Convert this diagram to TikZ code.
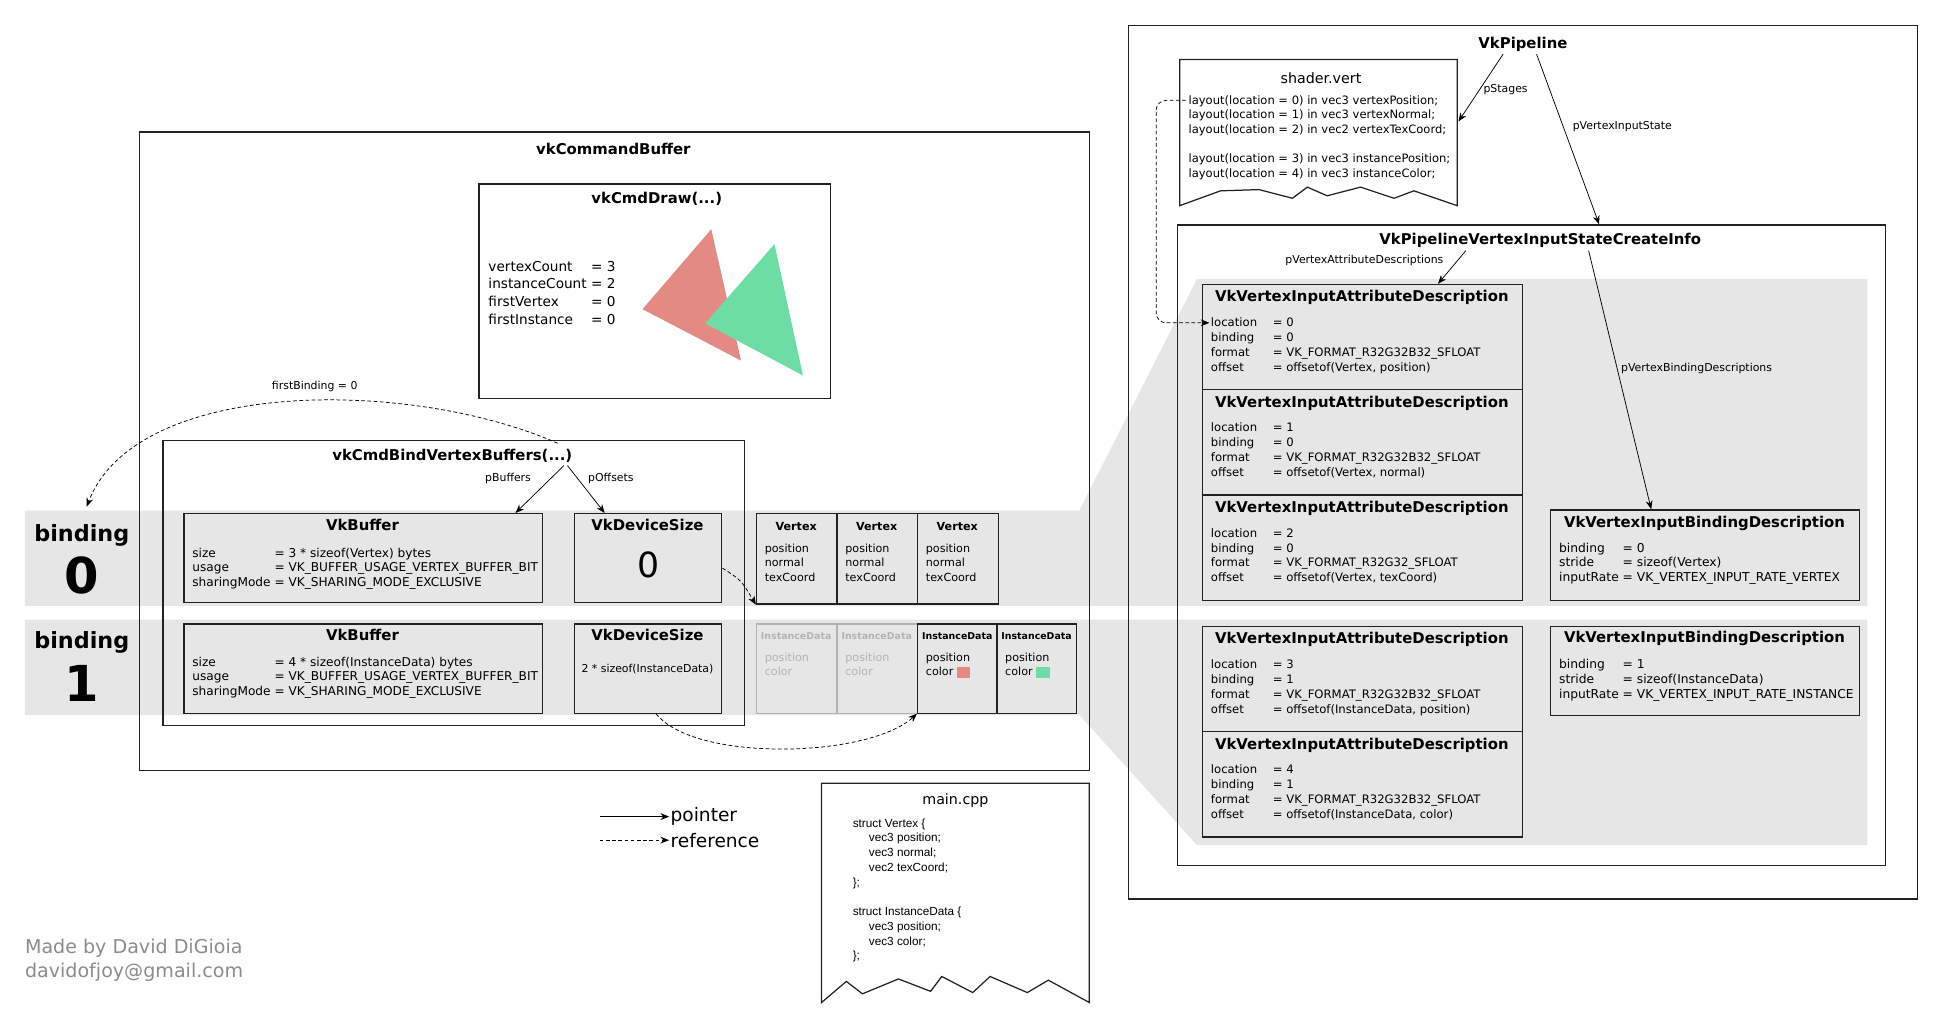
\documentclass[tikz,border=0pt]{standalone}
\usepackage{fontspec}
\setmainfont{DejaVu Sans}
\newfontfamily\codefont{Liberation Sans}
\usetikzlibrary{arrows.meta}

\definecolor{bandgray}{HTML}{E6E6E6}
\definecolor{linegray}{HTML}{222222}
\definecolor{fadegray}{HTML}{B3B3B3}
\definecolor{trired}{HTML}{E48A84}
\definecolor{trigreen}{HTML}{6EDCA5}
\definecolor{signgray}{HTML}{8C8C8C}

\tikzset{
  box/.style={draw=linegray, line width=1pt, anchor=north west, inner sep=0pt},
  fadebox/.style={box, draw=fadegray},
  boxtitle/.style={font=\fontsize{12}{14}\selectfont\bfseries, anchor=base, inner sep=2pt},
  kv/.style={font=\fontsize{9}{12}\selectfont, anchor=base west, inner sep=0pt},
  lbl/.style={font=\fontsize{8.8}{10}\selectfont, inner sep=1pt},
  ptrarrow/.style={-{Stealth[length=7pt,width=5.5pt]}, line width=0.6pt},
  refarrow/.style={ptrarrow, dash pattern=on 3pt off 2pt},
  swatch/.style={minimum width=11pt, minimum height=9pt, inner sep=0pt},
}

\begin{document}
\begin{tikzpicture}[x=1pt, y=-1pt]
\useasboundingbox (0,0) rectangle (1568,832);

% gray bands, one per binding
\fill[bandgray] (20,412) -- (871,412) -- (966,225) -- (1507,225) -- (1507,489) -- (20,489) -- cycle;
\fill[bandgray] (20,500) -- (1507,500) -- (1507,682) -- (966,682) -- (871,577) -- (20,577) -- cycle;

% binding labels
\node[font=\fontsize{18}{20}\selectfont\bfseries, anchor=base] (bind0) at (66,437) {binding};
\node[font=\fontsize{40}{40}\selectfont\bfseries, anchor=base] (bind0n) at (66,479) {0};
\node[font=\fontsize{18}{20}\selectfont\bfseries, anchor=base] (bind1) at (66,523.5) {binding};
\node[font=\fontsize{40}{40}\selectfont\bfseries, anchor=base] (bind1n) at (66,566) {1};

% command buffer
\node[box, minimum width=767pt, minimum height=515pt] (cmdbuf) at (112,106) {};
\node[boxtitle] (cmdbuft) at (495,124.5) {vkCommandBuffer};

% draw call
\node[box, minimum width=284pt, minimum height=173pt] (draw) at (386,148) {};
\node[boxtitle] (drawt) at (530,164.5) {vkCmdDraw(...)};
\node[kv, font=\fontsize{11}{14.2}\selectfont] (drawtxt) at (394,219) {\begin{tabular}[t]{@{}l@{ }l@{}}vertexCount & = 3\\ instanceCount & = 2\\ firstVertex & = 0\\ firstInstance & = 0\end{tabular}};
\fill[trired] (574,185) -- (598,291) -- (518.5,249.5) -- cycle;
\fill[trigreen] (625,197) -- (648,303) -- (569,261) -- cycle;

% bind vertex buffers call
\node[box, minimum width=469pt, minimum height=230pt] (bindvb) at (131,355) {};
\node[boxtitle] (bindvbt) at (365,372) {vkCmdBindVertexBuffers(...)};

% binding 0
\node[box, minimum width=289pt, minimum height=72pt] (buf0) at (148,414) {};
\node[boxtitle] (buf0t) at (292.5,428.5) {VkBuffer};
\node[kv, font=\fontsize{9.8}{11.8}\selectfont] (buf0txt) at (155,449.5) {\begin{tabular}[t]{@{}l@{ }l@{}}size & = 3 * sizeof(Vertex) bytes\\ usage & = VK\_BUFFER\_USAGE\_VERTEX\_BUFFER\_BIT\\ sharingMode & = VK\_SHARING\_MODE\_EXCLUSIVE\end{tabular}};
\node[box, minimum width=119pt, minimum height=72pt] (ds0) at (463,414) {};
\node[boxtitle] (ds0t) at (522.5,428.5) {VkDeviceSize};
\node[font=\fontsize{28}{28}\selectfont, anchor=base] (ds0val) at (523,466) {0};

% binding 1
\node[box, minimum width=289pt, minimum height=72pt] (buf1) at (148,503) {};
\node[boxtitle] (buf1t) at (292.5,516.5) {VkBuffer};
\node[kv, font=\fontsize{9.8}{11.8}\selectfont] (buf1txt) at (155,537.5) {\begin{tabular}[t]{@{}l@{ }l@{}}size & = 4 * sizeof(InstanceData) bytes\\ usage & = VK\_BUFFER\_USAGE\_VERTEX\_BUFFER\_BIT\\ sharingMode & = VK\_SHARING\_MODE\_EXCLUSIVE\end{tabular}};
\node[box, minimum width=119pt, minimum height=72pt] (ds1) at (463,503) {};
\node[boxtitle] (ds1t) at (522.5,516.5) {VkDeviceSize};
\node[lbl, anchor=base] (ds1val) at (522.5,543) {2 * sizeof(InstanceData)};

% pointers out of the bind call
\draw[ptrarrow] ([xshift=90pt]bindvbt.south) -- ([xshift=-22pt]buf0.north east);
\draw[ptrarrow] ([xshift=93pt]bindvbt.south) -- ([xshift=-35pt]ds0.north);
\node[lbl] (pbuflbl) at (410,386) {pBuffers};
\node[lbl] (pofflbl) at (493,386) {pOffsets};

% firstBinding reference
\draw[refarrow] ([xshift=85pt,yshift=3pt]bindvbt.north) .. controls (330,305) and (110,305) .. ([xshift=4pt,yshift=11pt]bind0.north);
\node[lbl] (fblbl) at (254,312) {firstBinding = 0};

% vertex data
\foreach \i/\x in {0/610, 1/675, 2/740} {
  \node[box, minimum width=65pt, minimum height=73pt] (vtx\i) at (\x,414) {};
  \node[boxtitle, font=\fontsize{9}{11}\selectfont\bfseries] (vtxt\i) at ({\x+32.5},428.5) {Vertex};
  \node[kv] (vtxtxt\i) at ({\x+7},445.5) {\begin{tabular}[t]{@{}l@{}}position\\ normal\\ texCoord\end{tabular}};
}

% instance data
\foreach \i/\x in {0/610, 1/675} {
  \node[fadebox, minimum width=65pt, minimum height=72pt] (inst\i) at (\x,503) {};
  \node[boxtitle, font=\fontsize{7.6}{9}\selectfont\bfseries, text=fadegray] (instt\i) at ({\x+32.5},516) {InstanceData};
  \node[kv, text=fadegray] (insttxt\i) at ({\x+7},533.5) {\begin{tabular}[t]{@{}l@{}}position\\ color\end{tabular}};
}
\foreach \i/\x in {2/740, 3/804} {
  \node[box, minimum width=64.5pt, minimum height=72pt] (inst\i) at (\x,503) {};
  \node[boxtitle, font=\fontsize{7.6}{9}\selectfont\bfseries] (instt\i) at ({\x+32.5},516) {InstanceData};
  \node[kv] (insttxt\i) at ({\x+7},533.5) {\begin{tabular}[t]{@{}l@{}}position\\ color\end{tabular}};
}
\node[swatch, fill=trired] (sw2) at (777.5,542.5) {};
\node[swatch, fill=trigreen] (sw3) at (841.5,542.5) {};

% offsets point into the data
\draw[refarrow] ([yshift=-8pt]ds0.east) .. controls (598,468) .. (vtx0.south west);
\draw[refarrow] ([xshift=6.5pt]ds1.south) .. controls (560,615) and (700,612) .. (inst2.south west);

% legend
\node[font=\fontsize{15}{17}\selectfont, anchor=west, inner sep=1pt] (ptrlbl) at (540,659) {pointer};
\node[font=\fontsize{15}{17}\selectfont, anchor=west, inner sep=1pt] (reflbl) at (540,678) {reference};
\coordinate (ptrA) at (484,659);
\coordinate (refA) at (484,678);
\draw[ptrarrow] (ptrA) -- (ptrlbl.west);
\draw[refarrow] (refA) -- (reflbl.west);

% main.cpp
\draw[linegray, line width=1pt] (663,809) -- (663,632) -- (879,632) -- (879,809) -- (846,791) -- (829,801) -- (799,788) -- (785,801) -- (760,788) -- (751,800) -- (725,790) -- (696,802) -- (683,792) -- cycle;
\node[font=\fontsize{11.5}{13}\selectfont, anchor=base] (cppt) at (771,649.5) {main.cpp};
\node[kv, font=\codefont\fontsize{9.5}{11.9}\selectfont] (cpptxt) at (688,667.5) {\begin{tabular}[t]{@{}l@{}}struct Vertex \{\\ \hspace*{13pt}vec3 position;\\ \hspace*{13pt}vec3 normal;\\ \hspace*{13pt}vec2 texCoord;\\ \};\\ \\ struct InstanceData \{\\ \hspace*{13pt}vec3 position;\\ \hspace*{13pt}vec3 color;\\ \};\end{tabular}};

% credit
\node[font=\fontsize{15.4}{17}\selectfont, text=signgray, anchor=base west, inner sep=0pt] (credit) at (20,769.5) {Made by David DiGioia};
\node[font=\fontsize{15.4}{17}\selectfont, text=signgray, anchor=base west, inner sep=0pt] (mail) at (20,788.5) {davidofjoy@gmail.com};

% pipeline
\node[box, minimum width=637pt, minimum height=705pt] (pipe) at (910,20) {};
\node[boxtitle] (pipet) at (1229,39) {VkPipeline};

% shader.vert
\draw[linegray, line width=1pt] (952,166) -- (952,48) -- (1176,48) -- (1176,166) -- (1141,154) -- (1125,160) -- (1098,151) -- (1071,158) -- (1055,151) -- (1043,160) -- (1016,153) -- (985,154) -- cycle;
\coordinate (shaderR) at (1177,98);
\node[font=\fontsize{11.5}{13}\selectfont, anchor=base] (shadert) at (1066,67) {shader.vert};
\node[kv, font=\fontsize{9.3}{11.8}\selectfont] (shadertxt) at (959,84) {\begin{tabular}[t]{@{}l@{}}layout(location = 0) in vec3 vertexPosition;\\ layout(location = 1) in vec3 vertexNormal;\\ layout(location = 2) in vec2 vertexTexCoord;\\ \\ layout(location = 3) in vec3 instancePosition;\\ layout(location = 4) in vec3 instanceColor;\end{tabular}};

% vertex input state
\node[box, minimum width=571pt, minimum height=517pt] (info) at (950,181) {};
\node[boxtitle] (infot) at (1243,197.5) {VkPipelineVertexInputStateCreateInfo};

% attribute descriptions
\foreach \i/\y/\loc/\bnd/\fmt/\off in {
  0/229/0/0/R32G32B32/{Vertex, position},
  1/314/1/0/R32G32B32/{Vertex, normal},
  2/399/2/0/R32G32/{Vertex, texCoord},
  3/505/3/1/R32G32B32/{InstanceData, position},
  4/590/4/1/R32G32B32/{InstanceData, color}} {
  \node[box, minimum width=258pt, minimum height=85pt] (attr\i) at (970,\y) {};
  \node[boxtitle] (attrt\i) at (1099,{\y+14.5}) {VkVertexInputAttributeDescription};
  \node[kv, font=\fontsize{9.4}{12}\selectfont] (attrtxt\i) at (977,{\y+34.5}) {\begin{tabular}[t]{@{}p{50pt}@{}l@{}}location & = \loc\\ binding & = \bnd\\ format & = VK\_FORMAT\_\fmt\_SFLOAT\\ offset & = offsetof(\off)\end{tabular}};
}

% binding descriptions
\node[box, minimum width=249pt, minimum height=73pt] (bd0) at (1251,411) {};
\node[boxtitle] (bdt0) at (1375.5,425.5) {VkVertexInputBindingDescription};
\node[kv, font=\fontsize{9.9}{12}\selectfont] (bdtxt0) at (1258,445.5) {\begin{tabular}[t]{@{}l@{ }l@{}}binding & = 0\\ stride & = sizeof(Vertex)\\ inputRate & = VK\_VERTEX\_INPUT\_RATE\_VERTEX\end{tabular}};
\node[box, minimum width=249pt, minimum height=72pt] (bd1) at (1251,505) {};
\node[boxtitle] (bdt1) at (1375.5,518.5) {VkVertexInputBindingDescription};
\node[kv, font=\fontsize{9.9}{12}\selectfont] (bdtxt1) at (1258,539.5) {\begin{tabular}[t]{@{}l@{ }l@{}}binding & = 1\\ stride & = sizeof(InstanceData)\\ inputRate & = VK\_VERTEX\_INPUT\_RATE\_INSTANCE\end{tabular}};

% pipeline pointers
\draw[ptrarrow] ([xshift=-16pt]pipet.south) -- (shaderR);
\node[lbl, anchor=west] (pstlbl) at (1196,72) {pStages};
\draw[ptrarrow] ([xshift=11pt]pipet.south) -- ([xshift=54.5pt]info.north);
\node[lbl, anchor=west] (pvislbl) at (1268,102) {pVertexInputState};
\draw[ptrarrow] ([xshift=-60pt]infot.south) -- ([xshift=61pt]attr0.north);
\node[lbl, anchor=east] (pvadlbl) at (1166,210) {pVertexAttributeDescriptions};
\draw[ptrarrow] ([xshift=39pt]infot.south) -- ([xshift=-43.5pt]bd0.north);
\node[lbl, anchor=west] (pvbdlbl) at (1307,297) {pVertexBindingDescriptions};

% shader input to attribute location
\draw[refarrow, rounded corners=8pt] ([xshift=-2pt,yshift=3pt]shadertxt.base west) -- (933,81) -- (933,260.5) -- ([xshift=-1pt,yshift=3pt]attrtxt0.base west);

\end{tikzpicture}
\end{document}
